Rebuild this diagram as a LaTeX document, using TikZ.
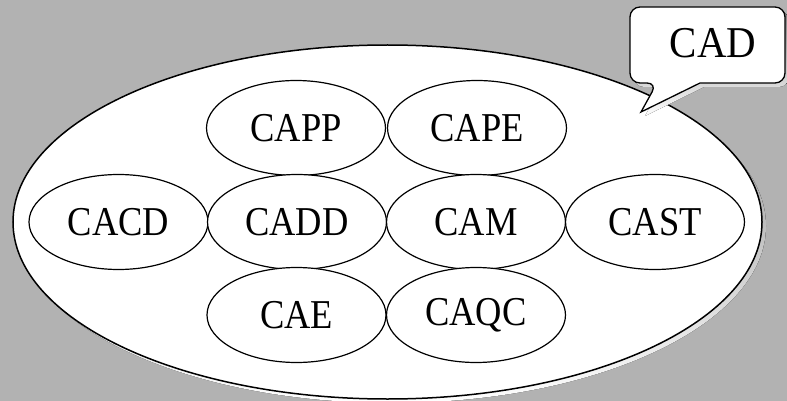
\documentclass[tikz,border=0pt]{standalone}
\usepackage{fontspec}
\setmainfont{Liberation Serif}[FakeStretch=0.89]
\newfontfamily\cadfont{Liberation Serif}[FakeStretch=0.93]
\usetikzlibrary{shapes.geometric}
\definecolor{bg}{HTML}{B2B2B2}
\definecolor{shade}{HTML}{7F7F7F}
\begin{document}
\begin{tikzpicture}[x=1pt,y=-1pt,
  sub/.style={ellipse,draw=black,line width=1.2pt,fill=white,minimum width=179pt,minimum height=95pt,inner sep=0pt,font=\fontsize{41}{41}\selectfont},
  lbl/.style={inner sep=0pt,font=\cadfont\fontsize{44}{44}\selectfont}]
\fill[bg] (0,0) rectangle (787,401);
\useasboundingbox (0,0) rectangle (787,401);
% big ellipse
\fill[shade] (391.5,226) ellipse [x radius=374.5, y radius=177];
\draw[line width=1.5pt,fill=white] (387.5,222) ellipse [x radius=374.5, y radius=177];
% callout shadow
\fill[shade,rounded corners=10] (704,87) -- (789,87) -- (789,11) -- (634,11) -- (634,87) -- (661,87) [sharp corners] -- (645,116) -- cycle;
\draw[line width=1.3pt,fill=white,rounded corners=10] (700,83) -- (785,83) -- (785,7) -- (630,7) -- (630,83) -- (657,83) [sharp corners] -- (641,112) -- cycle;
\node[lbl] (cad) at (713,43) {CAD};
% sub ellipses
\node[sub] (capp) at (296,128) {CAPP};
\node[sub] (cape) at (477,128) {CAPE};
\node[sub] (cacd) at (118.5,222) {CACD};
\node[sub] (cadd) at (297,222) {CADD};
\node[sub] (cam) at (476,222) {CAM};
\node[sub] (cast) at (655,222) {CAST};
\node[sub] (cae) at (296.5,315) {CAE};
\node[sub] (caqc) at (476,315) {CAQC};
\end{tikzpicture}
\end{document}
